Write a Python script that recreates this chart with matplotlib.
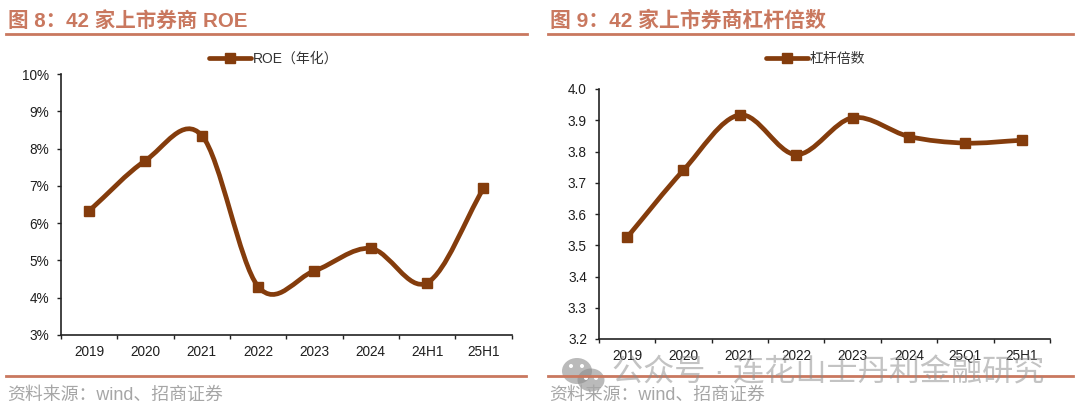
import matplotlib
matplotlib.use("Agg")
import matplotlib.pyplot as plt
from matplotlib.lines import Line2D
from matplotlib.patches import PathPatch, Ellipse
from matplotlib.path import Path
from matplotlib.transforms import ScaledTranslation

plt.rcParams['font.family'] = ['Liberation Sans', 'Noto Sans CJK SC', 'DejaVu Sans']

W, H = 1080, 416
roe_labels = ['2019', '2020', '2021', '2022', '2023', '2024', '24H1', '25H1']
roe_values = [6.33, 7.68, 8.35, 4.30, 4.72, 5.32, 4.40, 6.93]
lev_labels = ['2019', '2020', '2021', '2022', '2023', '2024', '25Q1', '25H1']
lev_values = [3.525, 3.74, 3.917, 3.79, 3.908, 3.848, 3.827, 3.836]
roe_ticks = [3, 4, 5, 6, 7, 8, 9, 10]
lev_ticks = [3.2, 3.3, 3.4, 3.5, 3.6, 3.7, 3.8, 3.9, 4.0]
title_left = '图 8：42 家上市券商 ROE'
title_right = '图 9：42 家上市券商杠杆倍数'
legend_left = 'ROE（年化）'
legend_right = '杠杆倍数'
source_text = '资料来源：wind、招商证券'
watermark = '公众号 · 连花山士丹利金融研究'

LINE = '#843C0C'
RULE = '#C9785F'
TEXT = '#1F1F1F'

fig = plt.figure(figsize=(W / 100, H / 100), dpi=100)


def px_axes(x0, x1, ytop, ybot):
    return fig.add_axes([x0 / W, 1 - ybot / H, (x1 - x0) / W, (ybot - ytop) / H])


def smooth_path(ys):
    """Smoothed line through the data points, straight-ish at the two ends."""
    n = len(ys)
    verts = [(0, ys[0])]
    codes = [Path.MOVETO]
    for i in range(n - 1):
        p1, p2 = ys[i], ys[i + 1]
        p0 = ys[i - 1] if i > 0 else 2 * p1 - p2
        p3 = ys[i + 2] if i + 2 < n else 2 * p2 - p1
        verts += [(i + 1 / 3, p1 + (p2 - p0) / 6),
                  (i + 2 / 3, p2 - (p3 - p1) / 6),
                  (i + 1, p2)]
        codes += [Path.CURVE4] * 3
    return Path(verts, codes)


def chart(box, labels, values, ticks, ticklabels, legend_text, legend_px):
    ax = px_axes(*box)
    ax.set_xlim(-0.5, len(labels) - 0.5)
    ax.set_ylim(ticks[0], ticks[-1])
    ax.add_patch(PathPatch(smooth_path(values), fc='none', ec=LINE, lw=3.4,
                           capstyle='round', joinstyle='round', zorder=3))
    ax.plot(range(len(values)), values, ls='none', marker='s', ms=7.8, color=LINE, zorder=4)
    ax.set_yticks(ticks)
    ax.set_yticklabels(ticklabels, fontsize=9.8, color=TEXT)
    shift = ScaledTranslation(0, 1.5 / 100, fig.dpi_scale_trans)
    for lab in ax.get_yticklabels():
        lab.set_transform(lab.get_transform() + shift)
    ax.set_xticks([i - 0.5 for i in range(len(labels) + 1)])
    ax.set_xticklabels([''] * (len(labels) + 1))
    for i, lab in enumerate(labels):
        ax.annotate(lab, (i, 0), xycoords=('data', 'axes fraction'), xytext=(0, -7),
                    textcoords='offset points', ha='center', va='top',
                    fontsize=9.8, color=TEXT)
    ax.tick_params(axis='both', length=3, width=1.0, color='#222222', pad=5.5)
    for s in ('top', 'right'):
        ax.spines[s].set_visible(False)
    for s in ('left', 'bottom'):
        ax.spines[s].set_linewidth(1.2)
        ax.spines[s].set_color('#222222')
    handle = Line2D([], [], color=LINE, lw=3.4, marker='s', ms=6.5, solid_capstyle='round')
    ax.legend([handle], [legend_text], loc='center left', frameon=False, fontsize=10,
              bbox_to_anchor=(legend_px / W, 1 - 59 / H), bbox_transform=fig.transFigure,
              handlelength=3.0, handletextpad=0.15, labelcolor='#333333',
              borderpad=0, borderaxespad=0)
    return ax


chart((61, 511.6, 74, 335), roe_labels, roe_values, roe_ticks,
      [f'{t}%' for t in roe_ticks], legend_left, 209)
chart((598.8, 1050, 89, 339), lev_labels, lev_values, lev_ticks,
      [f'{t:.1f}' for t in lev_ticks], legend_right, 766)


def ftext(x, y, s, **kw):
    fig.text(x / W, 1 - y / H, s, **kw)


def rule(x0, x1, y, lw):
    fig.add_artist(Line2D([x0 / W, x1 / W], [1 - y / H, 1 - y / H], color=RULE, lw=lw,
                          transform=fig.transFigure))


ftext(8, 21, title_left, fontsize=14.8, fontweight='bold', color=RULE, va='center')
ftext(550, 21, title_right, fontsize=15, fontweight='bold', color=RULE, va='center')
rule(6, 527, 34, 2.0)
rule(548, 1073, 34, 2.0)
rule(6, 526, 376, 2.0)
rule(548, 1073, 376, 2.0)
ftext(7, 395, source_text, fontsize=12.9, color='#A6A6A6', va='center')
ftext(549, 395, source_text, fontsize=12.9, color='#A6A6A6', va='center')

# watermark: two chat bubbles with eyes, then the account name
GREY = '#8C8C8C'
for cx, cy, w, h in [(577, 371, 30, 26), (591, 380, 27, 23)]:
    fig.add_artist(Ellipse((cx / W, 1 - cy / H), w / W, h / H, color=GREY, alpha=0.6,
                           transform=fig.transFigure, lw=0))
for cx, cy in [(571, 366), (582, 366), (586, 378), (596, 378)]:
    fig.add_artist(Ellipse((cx / W, 1 - cy / H), 4 / W, 4 / H, color='white',
                           transform=fig.transFigure, lw=0))
ftext(612, 373, watermark, fontsize=22.4, color=GREY, alpha=0.52, va='center')

fig.savefig('out.png', dpi=100)
